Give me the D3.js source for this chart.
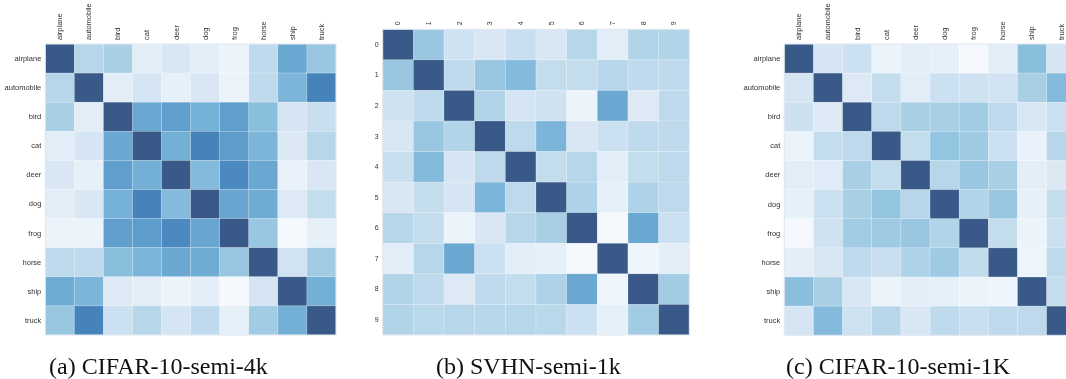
<!DOCTYPE html>
<html>
<head>
<meta charset="utf-8">
<script src="https://cdn.jsdelivr.net/npm/d3@7"></script>
<style>
  body { margin: 0; background: #fff; }
  svg { will-change: transform; }
</style>
</head>
<body>
<svg id="chart" width="1066" height="379"></svg>
<script>
// ------- Data -------
const cifarClasses = ['airplane', 'automobile', 'bird', 'cat', 'deer', 'dog', 'frog', 'horse', 'ship', 'truck'];
const svhnClasses = ['0', '1', '2', '3', '4', '5', '6', '7', '8', '9'];

const cifar4k = [
  [1.00, 0.35, 0.40, 0.15, 0.20, 0.15, 0.08, 0.32, 0.62, 0.45],
  [0.35, 1.00, 0.14, 0.22, 0.12, 0.20, 0.08, 0.32, 0.55, 0.80],
  [0.40, 0.14, 1.00, 0.62, 0.67, 0.57, 0.67, 0.50, 0.22, 0.28],
  [0.15, 0.22, 0.62, 1.00, 0.58, 0.80, 0.68, 0.55, 0.18, 0.35],
  [0.20, 0.12, 0.67, 0.58, 1.00, 0.52, 0.77, 0.62, 0.10, 0.20],
  [0.15, 0.20, 0.57, 0.80, 0.52, 1.00, 0.63, 0.60, 0.17, 0.30],
  [0.08, 0.08, 0.67, 0.68, 0.77, 0.63, 1.00, 0.45, 0.03, 0.12],
  [0.32, 0.32, 0.50, 0.55, 0.62, 0.60, 0.45, 1.00, 0.24, 0.42],
  [0.60, 0.55, 0.17, 0.14, 0.08, 0.13, 0.02, 0.22, 1.00, 0.58],
  [0.45, 0.80, 0.27, 0.35, 0.22, 0.32, 0.12, 0.42, 0.58, 1.00]
];

const svhn1k = [
  [1.00, 0.45, 0.25, 0.20, 0.28, 0.20, 0.35, 0.15, 0.37, 0.37],
  [0.45, 1.00, 0.32, 0.45, 0.52, 0.30, 0.30, 0.35, 0.32, 0.32],
  [0.25, 0.32, 1.00, 0.37, 0.22, 0.25, 0.08, 0.62, 0.17, 0.33],
  [0.20, 0.45, 0.37, 1.00, 0.33, 0.55, 0.20, 0.27, 0.32, 0.33],
  [0.28, 0.52, 0.22, 0.33, 1.00, 0.30, 0.35, 0.14, 0.30, 0.33],
  [0.20, 0.30, 0.22, 0.55, 0.33, 1.00, 0.38, 0.12, 0.38, 0.33],
  [0.35, 0.30, 0.08, 0.20, 0.35, 0.40, 1.00, 0.02, 0.62, 0.27],
  [0.15, 0.35, 0.62, 0.27, 0.14, 0.12, 0.02, 1.00, 0.06, 0.13],
  [0.37, 0.32, 0.17, 0.32, 0.30, 0.38, 0.62, 0.06, 1.00, 0.42],
  [0.37, 0.34, 0.35, 0.35, 0.35, 0.34, 0.27, 0.12, 0.42, 1.00]
];

const cifar1k = [
  [1.00, 0.22, 0.27, 0.08, 0.15, 0.12, 0.02, 0.15, 0.50, 0.22],
  [0.22, 1.00, 0.17, 0.30, 0.15, 0.27, 0.25, 0.24, 0.40, 0.52],
  [0.27, 0.17, 1.00, 0.33, 0.40, 0.40, 0.42, 0.33, 0.20, 0.27],
  [0.08, 0.30, 0.33, 1.00, 0.30, 0.47, 0.43, 0.27, 0.10, 0.35],
  [0.14, 0.16, 0.40, 0.30, 1.00, 0.35, 0.45, 0.40, 0.13, 0.18],
  [0.12, 0.27, 0.40, 0.47, 0.35, 1.00, 0.37, 0.45, 0.12, 0.30],
  [0.02, 0.25, 0.42, 0.43, 0.45, 0.37, 1.00, 0.30, 0.08, 0.27],
  [0.13, 0.20, 0.32, 0.28, 0.38, 0.43, 0.31, 1.00, 0.07, 0.33],
  [0.50, 0.40, 0.20, 0.08, 0.13, 0.12, 0.08, 0.06, 1.00, 0.30],
  [0.22, 0.52, 0.26, 0.35, 0.20, 0.32, 0.28, 0.32, 0.33, 1.00]
];

const captions = ['(a) CIFAR-10-semi-4k', '(b) SVHN-semi-1k', '(c) CIFAR-10-semi-1K'];

// ------- Panel layout -------
const panels = [
  {matrix: cifar4k, classes: cifarClasses, x: 45.3, y: 44, w: 290.7, h: 291, fs: 7.5, caption: captions[0], capX: 49},
  {matrix: svhn1k, classes: svhnClasses, x: 382.7, y: 29.3, w: 306.6, h: 305.7, fs: 7, caption: captions[1], capX: 436},
  {matrix: cifar1k, classes: cifarClasses, x: 784.3, y: 44, w: 291.5, h: 291.3, fs: 7.5, caption: captions[2], capX: 786}
];

const svg = d3.select('#chart');
const colour = d3.scaleSequential(d3.interpolateBlues).domain([0, 1]);
const labelFont = '"Liberation Sans", Arial, sans-serif';
const captionFont = '"Times New Roman", Times, "Liberation Serif", "Noto Serif", "DejaVu Serif", FreeSerif, serif';

panels.forEach(p => {
    const g = svg.append('g')
        .attr('transform', `translate(${p.x}, ${p.y})`);

    const xScale = d3.scaleBand().domain(p.classes).range([0, p.w]);
    const yScale = d3.scaleBand().domain(p.classes).range([0, p.h]);

    const cells = [];
    p.matrix.forEach((row, i) => row.forEach((v, j) => cells.push({r: p.classes[i], c: p.classes[j], v})));

    // ------- Heatmap cells -------
    g.selectAll('rect.cell')
        .data(cells)
        .enter()
        .append('rect')
            .attr('class', 'cell')
            .attr('x', d => xScale(d.c))
            .attr('y', d => yScale(d.r))
            .attr('width', xScale.bandwidth())
            .attr('height', yScale.bandwidth())
            .attr('fill', d => colour(d.v))
            .attr('fill-opacity', 0.8)
            .attr('stroke', '#fff')
            .attr('stroke-opacity', 0.3)
            .attr('stroke-width', 0.6);

    g.append('rect')
        .attr('width', p.w)
        .attr('height', p.h)
        .attr('fill', 'none')
        .attr('stroke', '#dfe6ef')
        .attr('stroke-width', 1);

    // ------- Column labels, rotated -------
    const xAxis = g.append('g')
        .call(d3.axisTop(xScale).tickSize(0).tickPadding(0));
    xAxis.select('.domain').remove();
    xAxis.selectAll('.tick text')
        .style('font-family', labelFont)
        .attr('font-size', p.fs)
        .attr('fill', '#333')
        .attr('x', 0)
        .attr('y', 0)
        .attr('dy', '0.32em')
        .attr('text-anchor', 'start')
        .attr('transform', 'translate(0,-4) rotate(-90)');

    // ------- Row labels -------
    const yAxis = g.append('g')
        .call(d3.axisLeft(yScale).tickSize(0).tickPadding(4));
    yAxis.select('.domain').remove();
    yAxis.selectAll('.tick text')
        .style('font-family', labelFont)
        .attr('font-size', p.fs)
        .attr('fill', '#333');

    // ------- Caption -------
    svg.append('text')
        .attr('x', p.capX)
        .attr('y', 374)
        .style('font-family', captionFont)
        .attr('font-size', 24)
        .attr('fill', '#111')
        .text(p.caption);
});
</script>
</body>
</html>
